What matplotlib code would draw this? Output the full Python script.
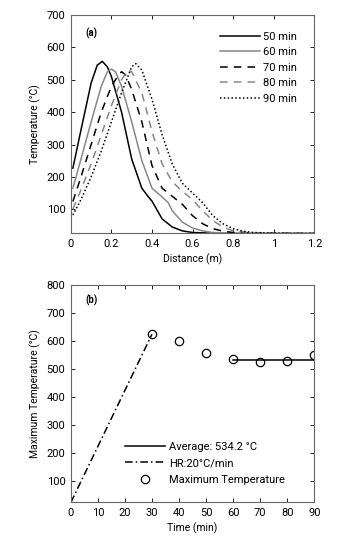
import matplotlib
matplotlib.use("Agg")
import matplotlib.pyplot as plt

plt.rcParams['font.family'] = ['Roboto', 'DejaVu Sans']
plt.rcParams['font.size'] = 7.5

# ---- panel (a) data ----
x50 = [0.01, 0.05, 0.10, 0.13, 0.155, 0.18, 0.20, 0.25, 0.30, 0.35, 0.38, 0.40, 0.45, 0.50, 0.55, 0.60, 0.70, 0.80, 1.20]
t50 = [227, 345, 490, 545, 557, 540, 510, 400, 255, 165, 140, 125, 70, 45, 33, 28, 26, 25, 25]
x60 = [0.01, 0.05, 0.10, 0.15, 0.18, 0.20, 0.22, 0.25, 0.30, 0.35, 0.40, 0.45, 0.48, 0.50, 0.55, 0.60, 0.65, 0.70, 0.80, 0.90, 1.20]
t60 = [165, 255, 370, 480, 525, 533, 525, 480, 370, 250, 165, 138, 120, 95, 60, 42, 33, 28, 26, 25, 25]
x70 = [0.01, 0.05, 0.10, 0.15, 0.20, 0.23, 0.25, 0.27, 0.30, 0.35, 0.40, 0.45, 0.50, 0.55, 0.60, 0.65, 0.70, 0.75, 0.80, 0.90, 1.20]
t70 = [124, 200, 300, 400, 480, 510, 525, 515, 470, 370, 235, 165, 140, 115, 80, 55, 40, 32, 28, 26, 25]
x80 = [0.01, 0.05, 0.10, 0.15, 0.20, 0.25, 0.28, 0.30, 0.35, 0.40, 0.45, 0.50, 0.55, 0.60, 0.65, 0.70, 0.75, 0.80, 0.90, 1.00, 1.20]
t80 = [100, 160, 240, 330, 420, 500, 530, 525, 460, 340, 240, 185, 155, 130, 95, 65, 45, 33, 27, 25, 25]
x90 = [0.01, 0.05, 0.10, 0.15, 0.20, 0.25, 0.30, 0.32, 0.35, 0.40, 0.45, 0.50, 0.55, 0.60, 0.65, 0.70, 0.75, 0.80, 0.85, 0.90, 1.00, 1.20]
t90 = [82, 130, 200, 280, 370, 460, 540, 550, 530, 440, 330, 240, 180, 150, 120, 80, 55, 40, 32, 28, 26, 25]

# ---- panel (b) data ----
time_pts = [30, 40, 50, 60, 70, 80, 90]
max_temp = [625, 600, 557, 535, 525, 530, 550]
avg_x = [60, 90]
avg_val = 534.2
hr_x = [0, 30]
hr_y = [25, 625]

fig = plt.figure(figsize=(3.39, 5.38), dpi=100)
ax1 = fig.add_axes([0.209, 0.566, 0.718, 0.406])
ax2 = fig.add_axes([0.209, 0.066, 0.718, 0.404])

lw = 1.1
ax1.plot(x50, t50, color='black', lw=lw, ls='-', label='50 min')
ax1.plot(x60, t60, color='#888888', lw=lw, ls='-', label='60 min')
ax1.plot(x70, t70, color='black', lw=lw, ls=(0, (5, 4)), label='70 min')
ax1.plot(x80, t80, color='#888888', lw=lw, ls=(0, (5, 4)), label='80 min')
ax1.plot(x90, t90, color='black', lw=lw, ls=(0, (1, 1.5)), label='90 min')
ax1.set_xlim(0, 1.2)
ax1.set_ylim(25, 700)
ax1.set_xticks([0, 0.2, 0.4, 0.6, 0.8, 1.0, 1.2])
ax1.set_xticklabels(['0', '0.2', '0.4', '0.6', '0.8', '1', '1.2'])
ax1.set_yticks([100, 200, 300, 400, 500, 600, 700])
ax1.set_xlabel('Distance (m)', labelpad=3)
ax1.set_ylabel('Temperature (°C)', labelpad=4)
ax1.text(0.06, 0.915, '(a)', transform=ax1.transAxes, fontsize=7, fontweight='bold', va='center')
ax1.legend(loc='upper right', bbox_to_anchor=(0.97, 0.97), frameon=False,
           handlelength=3.6, handletextpad=0.3, labelspacing=0.5, fontsize=8)

ax2.plot(avg_x, [avg_val, avg_val], color='black', lw=1.1, label='Average: 534.2 °C')
ax2.plot(hr_x, hr_y, color='black', lw=1.1, ls=(0, (5, 2, 1, 2)), label='HR:20°C/min')
ax2.plot(time_pts, max_temp, ls='none', marker='o', ms=6, mfc='none', mec='black', mew=0.9,
         label='Maximum Temperature')
ax2.set_xlim(0, 90)
ax2.set_ylim(25, 800)
ax2.set_xticks(range(0, 91, 10))
ax2.set_yticks([100, 200, 300, 400, 500, 600, 700, 800])
ax2.set_xlabel('Time (min)', labelpad=3)
ax2.set_ylabel('Maximum Temperature (°C)', labelpad=4)
ax2.text(0.06, 0.93, '(b)', transform=ax2.transAxes, fontsize=7, fontweight='bold', va='center')
ax2.legend(loc='lower left', bbox_to_anchor=(0.18, 0.035), frameon=False,
           handlelength=3.6, handletextpad=0.4, labelspacing=0.6, fontsize=8)

for ax in (ax1, ax2):
    ax.tick_params(direction='in', top=True, right=True, length=3, width=0.6, labelsize=8, pad=4)
    for s in ax.spines.values():
        s.set_color('#666666')
        s.set_linewidth(0.8)

fig.savefig('out.png', dpi=100)
